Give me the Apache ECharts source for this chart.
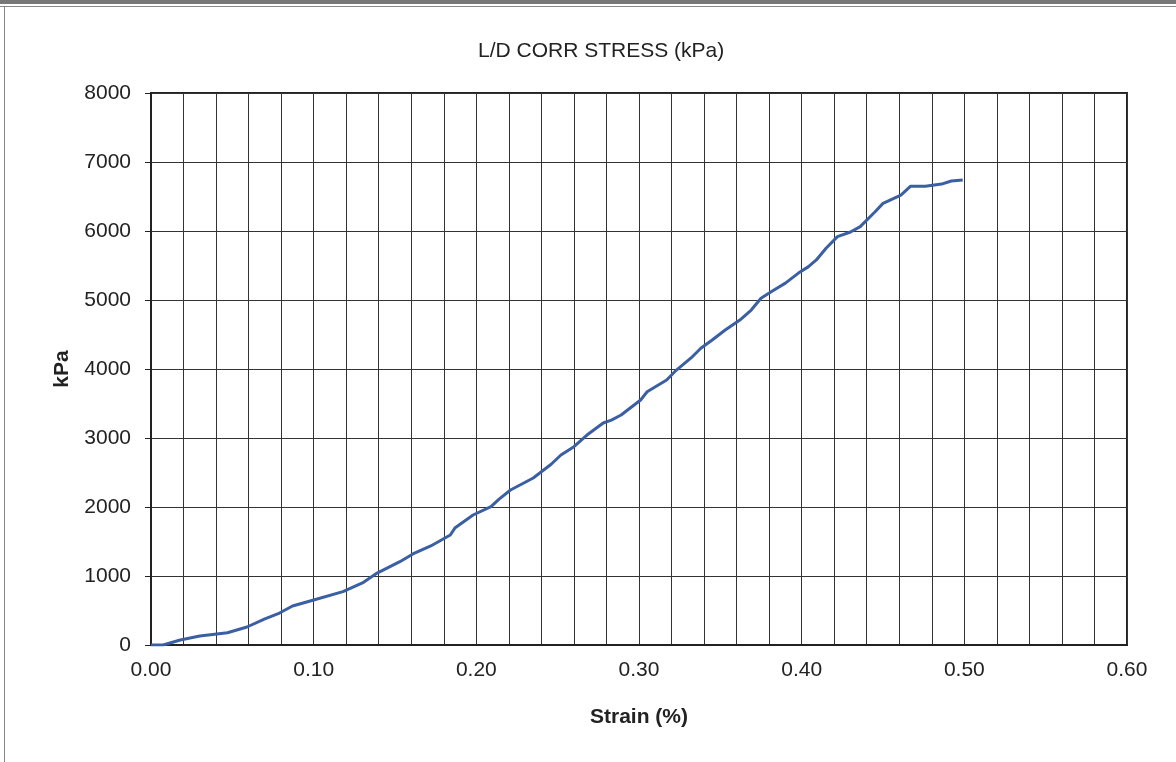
<!DOCTYPE html>
<html><head><meta charset="utf-8">
<script src="https://cdn.jsdelivr.net/npm/echarts@6/dist/echarts.min.js"></script>
<style>html,body{margin:0;padding:0;background:#fff;}#c{width:1176px;height:762px;}</style>
</head><body><div id="c"></div>
<script>
var strain = [0, 0.0074, 0.018, 0.030, 0.047, 0.059, 0.070, 0.079, 0.087, 0.100, 0.118, 0.130, 0.139, 0.153, 0.161, 0.172, 0.184, 0.187, 0.198, 0.209, 0.214, 0.221, 0.235, 0.246, 0.252, 0.260, 0.268, 0.278, 0.283, 0.289, 0.301, 0.305, 0.317, 0.323, 0.332, 0.338, 0.345, 0.353, 0.362, 0.369, 0.375, 0.382, 0.390, 0.398, 0.404, 0.409, 0.415, 0.422, 0.430, 0.436, 0.445, 0.450, 0.461, 0.467, 0.476, 0.486, 0.492, 0.499];
var stress = [0, 0, 72, 130, 178, 261, 380, 463, 565, 652, 773, 900, 1043, 1207, 1320, 1435, 1594, 1700, 1884, 2005, 2115, 2246, 2420, 2620, 2754, 2874, 3043, 3217, 3260, 3333, 3551, 3671, 3841, 3985, 4160, 4300, 4420, 4565, 4710, 4855, 5025, 5130, 5245, 5390, 5480, 5580, 5750, 5918, 5985, 6063, 6275, 6400, 6520, 6650, 6650, 6680, 6725, 6740];
var titleText = 'L/D CORR STRESS (kPa)';
var xName = 'Strain (%)';
var yName = 'kPa';

var pts = strain.map(function(s, i){ return [s, stress[i]]; });
var chart = echarts.init(document.getElementById('c'));
var font = "'Liberation Sans', Arial, sans-serif";
chart.setOption({
  animation: false,
  backgroundColor: '#fff',
  graphic: [
    {type:'rect', shape:{x:0,y:0,width:1176,height:4}, style:{fill:'#777'}},
    {type:'line', shape:{x1:0,y1:6.5,x2:1176,y2:6.5}, style:{stroke:'#888',lineWidth:1}},
    {type:'line', shape:{x1:4.5,y1:6,x2:4.5,y2:762}, style:{stroke:'#888',lineWidth:1}}
  ],
  title: {text: titleText, left: 473, top: 36, textStyle:{fontFamily:font, fontSize:21, fontWeight:'normal', color:'#222'}},
  grid: {left:151, top:93, right:49, bottom:117, show:true, borderColor:'#222', borderWidth:2},
  xAxis: {
    type:'value', min:0, max:0.6, interval:0.02,
    name: xName, nameLocation:'middle', nameGap:62,
    nameTextStyle:{fontFamily:font, fontSize:21, fontWeight:'bold', color:'#222'},
    axisLine:{show:true, onZero:false, lineStyle:{color:'#222', width:2}},
    axisTick:{show:false},
    axisLabel:{fontFamily:font, fontSize:21, color:'#222', margin:15,
      formatter:function(v){ var r=Math.round(v*100); return (r%10===0)? v.toFixed(2) : ''; }},
    splitLine:{show:true, lineStyle:{color:'#333', width:1}}
  },
  yAxis: {
    type:'value', min:0, max:8000, interval:1000,
    name: yName, nameLocation:'middle', nameGap:78, nameRotate:90,
    nameTextStyle:{fontFamily:font, fontSize:21, fontWeight:'bold', color:'#222'},
    axisLine:{show:true, lineStyle:{color:'#222', width:2}},
    axisTick:{show:true, length:6, lineStyle:{color:'#222'}},
    axisLabel:{fontFamily:font, fontSize:21, color:'#222', margin:20,
      formatter:function(v){ return String(v); }},
    splitLine:{show:true, lineStyle:{color:'#333', width:1}}
  },
  series: [{
    type:'line', data: pts, showSymbol:false, smooth:false,
    lineStyle:{color:'#3B5FA3', width:3}
  }]
});
</script></body></html>
